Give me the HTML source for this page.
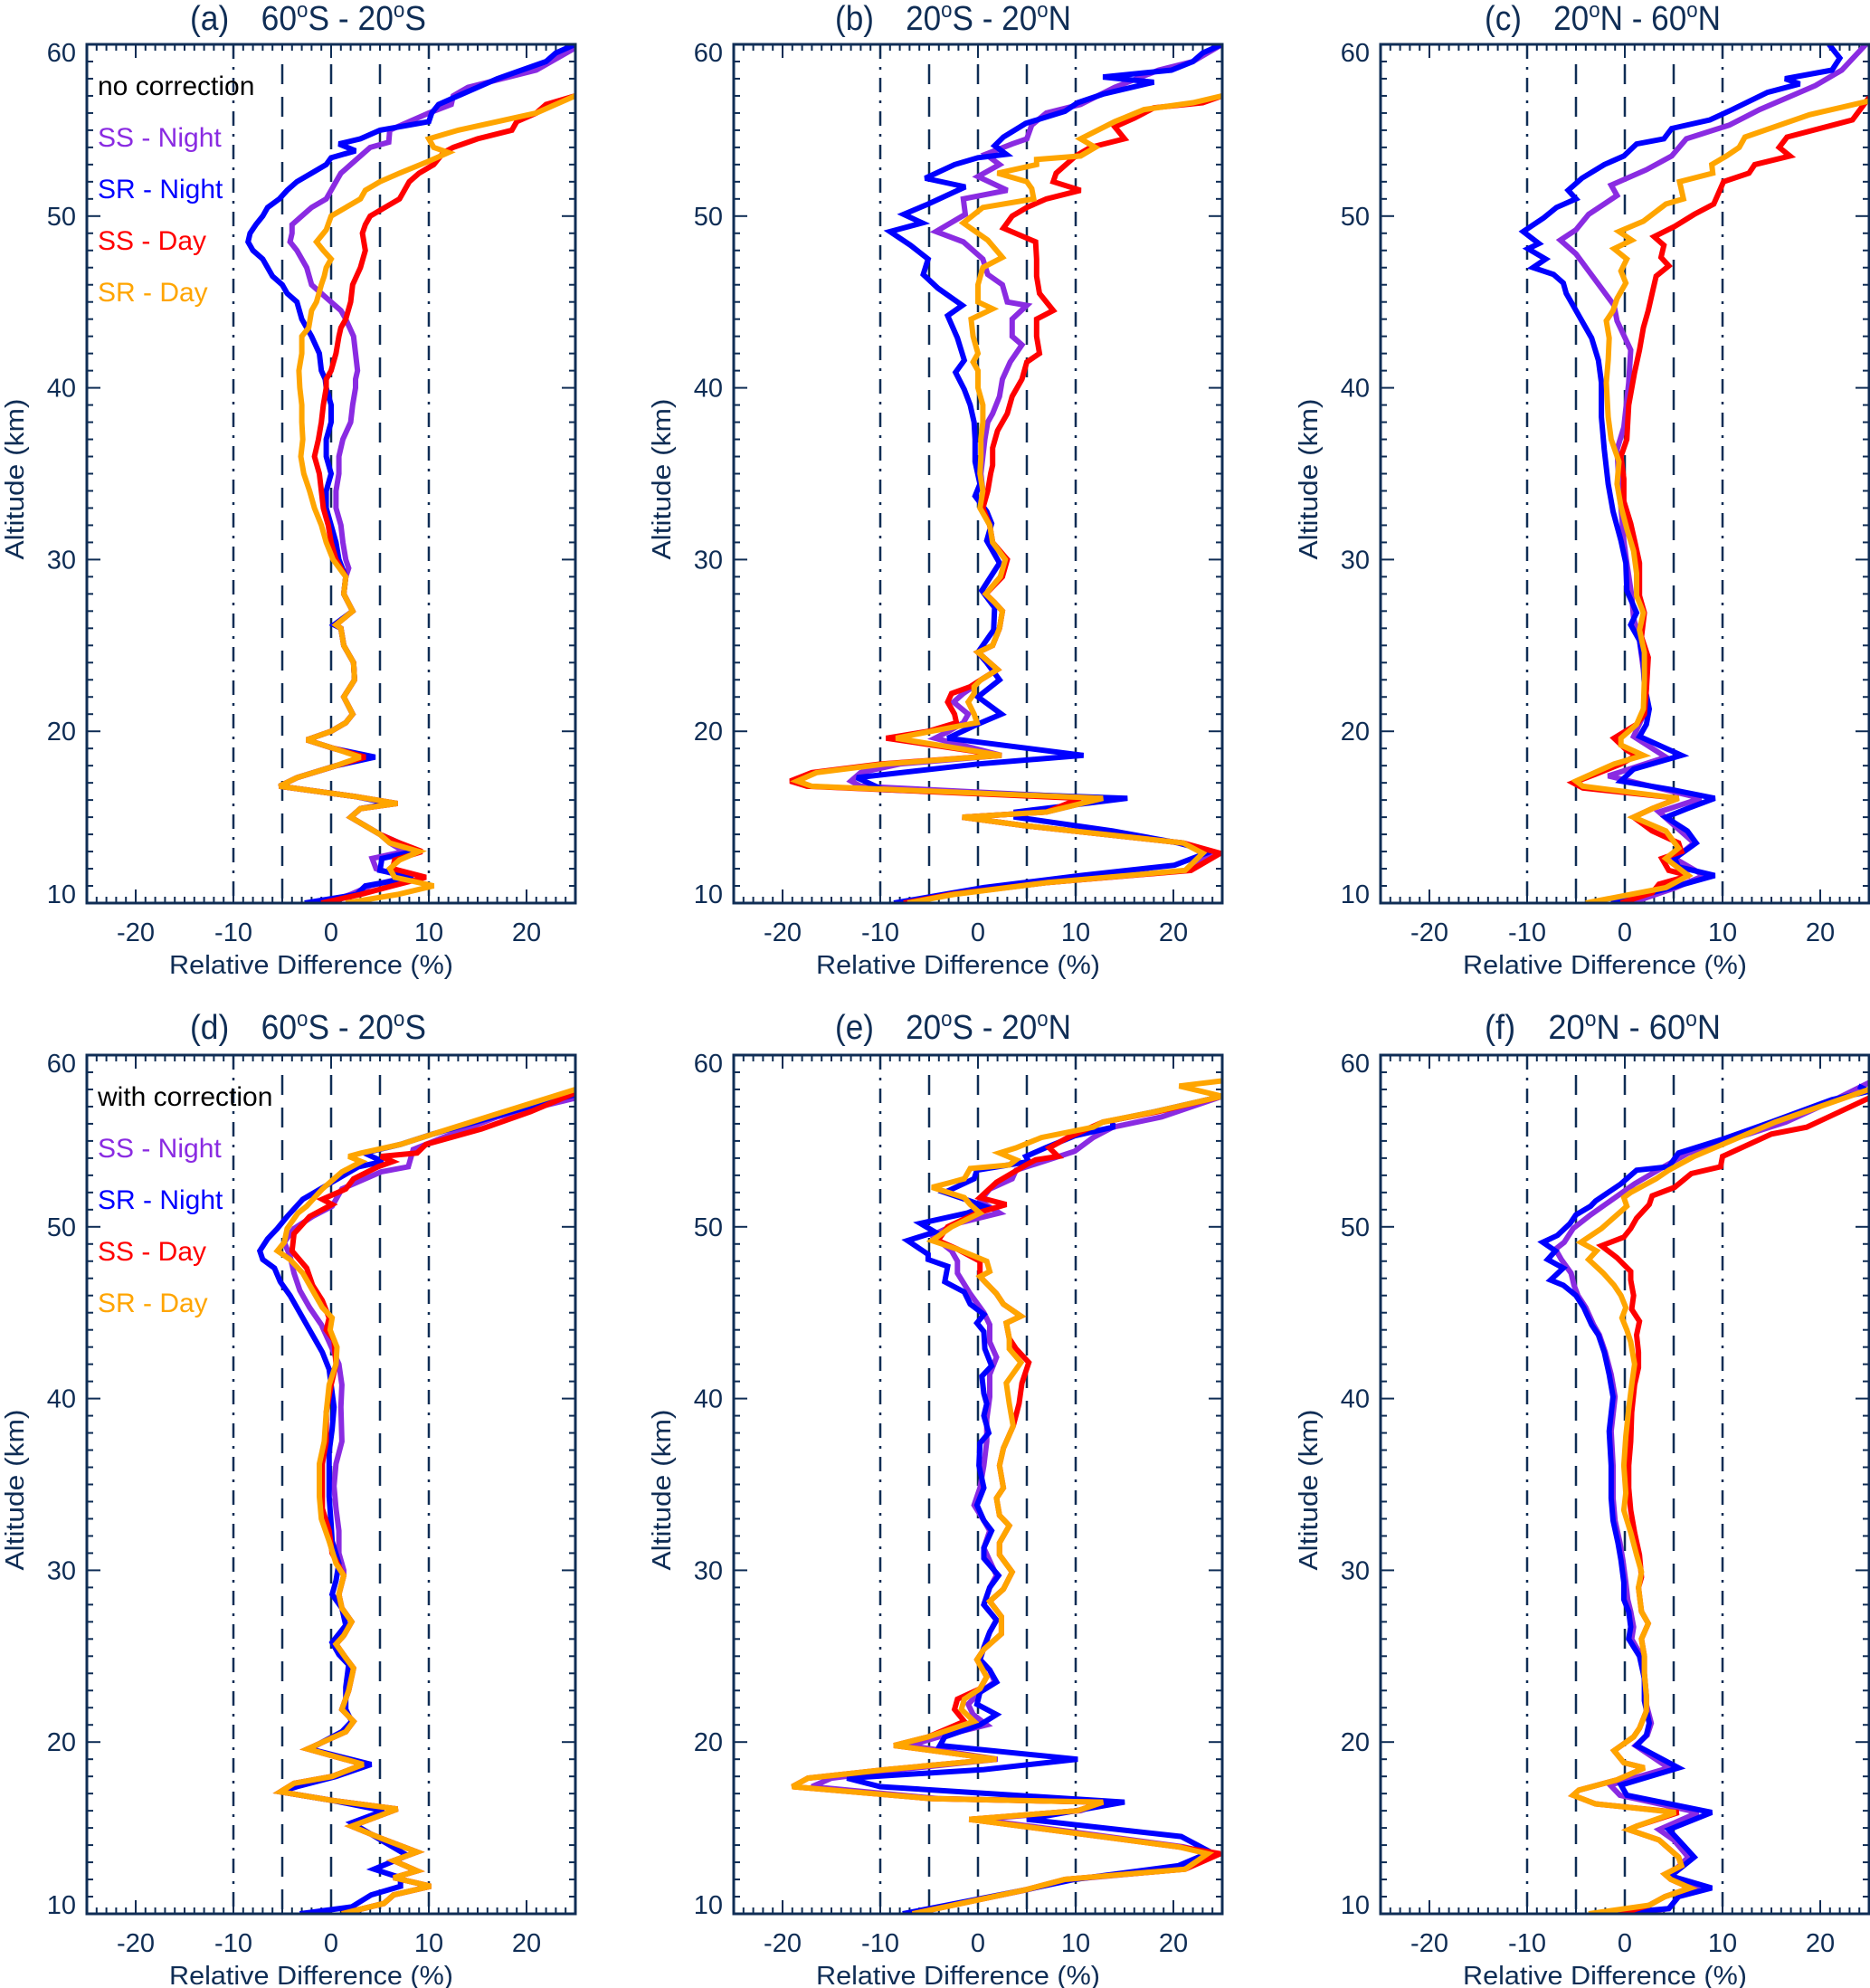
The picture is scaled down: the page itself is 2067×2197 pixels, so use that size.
<!DOCTYPE html>
<html><head><meta charset="utf-8"><title>Relative Difference profiles</title>
<style>
html,body{margin:0;padding:0;background:#fff;}
svg{display:block;}
text{font-family:"Liberation Sans Narrow","Liberation Sans",sans-serif;fill:#0f2d55;}
</style></head>
<body>
<svg id="fig" xmlns="http://www.w3.org/2000/svg" width="2067" height="2197" viewBox="0 0 2067 2197"></svg>
<script>
// ---------- DATA: [altitude km, relative difference %] ----------
const xTicks=[-20,-10,0,10,20];
const yTicks=[10,20,30,40,50,60];
const refDashDot=[-10,10];
const refDash=[-5,0,5];
const seriesNames=["SS - Night","SR - Night","SS - Day","SR - Day"];
const panelTitles=["(a)","(b)","(c)","(d)","(e)","(f)"];
const panelRegions=[["60","S - 20","S"],["20","S - 20","N"],["20","N - 60","N"],["60","S - 20","S"],["20","S - 20","N"],["20","N - 60","N"]];

// Panel (a)
const a_SSN=[[59.8,25],[58.5,21],[57.5,14],[57,12.5],[56.5,12.3],[56,10],[55.5,8],[55,6],[54.3,5.9],[54,4],[53.5,3],[53,2],[52.5,1],[52,0.5],[51.5,0],[51,-0.5],[50.5,-2],[50,-3],[49.5,-4],[49,-4],[48.5,-4.2],[48,-3.5],[47,-2.5],[46,-2],[45.5,-1],[45,0],[44.5,1],[44,1.5],[43,2.3],[42,2.5],[41,2.7],[40.5,2.5],[40,2.5],[39,2.2],[38,2],[37,1.2],[36,0.8],[35,0.8],[34,0.5],[33,0.5],[32,1],[31,1.2],[30,1.5],[29.5,1.8],[29,1.5],[28,1.3],[27,2.2],[26.2,0.5],[26,1],[25,1.3],[24,2.3],[23,2.4],[22,1.3],[21,2.2],[20.5,1.5],[20,0],[19.5,-2.5],[19,0.3],[18.5,3.5],[18,0.5],[17.3,-3.5],[16.8,-5.3],[16.2,2.5],[15.8,6.8],[15.5,3],[15,2],[14,5],[13.5,6],[13,7.5],[12.6,4.2],[12,4.6],[11.5,7.6],[11,4],[10.5,2],[10,-0.5]];
const a_SRN=[[60,25],[59.5,23],[59,22],[58.5,19.5],[58,17],[57,13],[56.5,11],[56,10.3],[55.5,10],[55,5],[54.5,3],[54.2,0.8],[53.8,2.5],[53.4,0],[53,-0.5],[52.5,-2],[52,-3.5],[51.5,-4.5],[51,-5.3],[50.5,-6.5],[50,-7],[49.5,-7.7],[49,-8.3],[48.5,-8.5],[48,-8],[47.5,-7],[47,-6.5],[46.5,-6],[46,-5],[45.5,-4.5],[45,-3.5],[44,-3],[43,-2],[42,-1.2],[41,-1],[40.5,-0.6],[40,-0.5],[39,0],[38,0],[37,-0.5],[36,-0.5],[35,0],[34,-0.5],[33,-0.5],[32,0],[31,0.5],[30,0.8],[29,1.5],[28,1.3],[27,2.2],[26.2,0.3],[26,1],[25,1.3],[24,2.3],[23,2.4],[22,1.3],[21,2.2],[20.5,1.5],[20,0],[19.5,-2.5],[19,0.3],[18.5,4.5],[18,0.5],[17.3,-3.5],[16.8,-5.3],[16.2,2.5],[15.8,6],[15.5,3],[15,2],[14,5],[13.5,7],[13,8.4],[12.6,5.2],[11.9,5],[11.5,8.4],[11,3.5],[10.5,2.6],[10,-2.7]];
const a_SSD=[[57,25],[56.5,22],[56,21],[55.5,19],[55,18.5],[54.5,15],[54,12.5],[53.7,11.5],[53,10.5],[52.5,9],[52,8],[51.5,7.5],[51,7],[50.5,5.5],[50,4],[49.5,3.5],[49,3.2],[48,3.5],[47,3],[46,2.2],[45,2],[44,1.5],[43.5,1],[43,0.8],[42,0.5],[41,0],[40.5,-0.5],[40,-0.5],[39,-0.8],[38,-1],[37,-1.3],[36,-1.7],[35,-1.2],[34,-1],[33,-0.8],[32,-0.3],[31,0],[30,0.5],[29,1.5],[28,1.3],[27,2.2],[26.2,0.5],[26,1],[25,1.3],[24,2.3],[23,2.4],[22,1.3],[21,2.2],[20.5,1.5],[20,0],[19.5,-2.5],[19,0.3],[18.5,3.5],[18,0.5],[17.3,-3.5],[16.8,-5.3],[16.2,2.5],[15.8,6.8],[15.5,3],[15,2],[14,5],[13.5,7],[13,9.3],[12.5,6.5],[12,6.3],[11.5,9.7],[11,6.3],[10.5,3],[10,-1]];
const a_SRD=[[57,25],[56.5,23],[56,21],[55.5,17],[55,13],[54.5,10],[54,10.5],[53.7,12],[53.2,10],[52.5,7],[52,5],[51.5,3.5],[51,3],[50.5,1.5],[50,0],[49.2,-0.5],[48.5,-1.5],[48,-0.8],[47.5,0],[47,-0.5],[46.5,-0.7],[46,-1],[45,-1.5],[44.5,-2],[43.5,-2.3],[43,-3],[42,-3],[41,-3.3],[40,-3.2],[39,-3],[38,-3],[37,-2.9],[36,-3.1],[35,-2.8],[34,-2.2],[33,-1.7],[32,-1],[31,-0.5],[30,0.2],[29,1.5],[28,1.3],[27,2.2],[26.2,0.5],[26,1],[25,1.3],[24,2.3],[23,2.4],[22,1.3],[21,2.2],[20.5,1.5],[20,0],[19.5,-2.5],[19,0.3],[18.5,3],[18,0.5],[17.3,-3.5],[16.8,-5.3],[16.2,2.5],[15.8,6.8],[15.5,3],[15,2],[14,5],[13.5,6],[13,9],[12.5,7],[12,6],[11.5,6.5],[11,10.5],[10.5,6.8],[10,1.5]];

// Panel (b)
const b_SSN=[[60.3,21.5],[60,25],[59,22],[58.5,18.5],[57.5,14],[56.5,10.5],[56,7],[55.3,5.5],[54.5,5],[54.2,3.5],[53.6,0.8],[53,2.2],[52.3,0],[51.5,3],[51,-1.5],[50.1,-1.3],[49.1,-4.3],[48.5,-1.5],[47.5,0.5],[46.6,1],[46,2.5],[45,3],[44.8,5],[44,3.5],[43,3.5],[42.5,4.5],[41.5,3.3],[40.5,2.5],[39.5,2.2],[38.5,1.5],[38,1],[37,0.7],[36,0.5],[35,0.3],[34,0.5],[33,0.3],[32,1.2],[31,1.5],[30,2.8],[29,2.3],[28,0.8],[27.5,1.7],[27,2.5],[26,2.2],[25,1.5],[24.6,0],[23.6,2],[23,0.3],[22.6,-0.5],[22.2,-1.5],[21.7,-2.5],[21,-1],[20.5,-1.5],[20,-3],[19.6,-4.4],[18.6,2.4],[18.1,-8],[17.6,-12],[17.1,-13],[16.8,-12],[16.1,12.8],[15.3,7],[15,-1.6],[14.5,4.9],[13.5,21],[12.9,24],[11.9,21.5],[11.2,7.2],[10.5,-2.8],[10,-7.6]];
const b_SRN=[[60,25],[59.5,23],[59,22],[58.5,19.8],[58.1,12.8],[57.8,18],[57.1,12.8],[56.6,10.2],[56.1,8.9],[55.4,4.9],[54.6,2.6],[54.1,1.7],[53.6,2.9],[53.4,0],[53,-2.4],[52.2,-5.4],[51.7,-1.3],[50.7,-5.1],[50.1,-7.6],[49.6,-5.7],[49.1,-9],[48.3,-6.9],[47.5,-5.1],[46.6,-5.6],[45.8,-4.1],[44.8,-1.6],[44.2,-3.1],[42.9,-2.1],[41.6,-1.4],[40.9,-2.3],[39.9,-1.4],[39,-0.8],[38,-0.4],[37,-0.3],[35.7,-0.3],[34.4,0.2],[33.7,-0.3],[32.8,0.9],[32.1,1.4],[31.1,0.9],[29.8,2.2],[28.2,0.4],[27.2,1.7],[25.9,1.6],[24.6,0],[24,0.9],[23,2.2],[22,0],[21,2.4],[20.4,-0.1],[19.6,-3.1],[18.6,10.8],[18.1,0],[17.3,-12.4],[16.6,-9.7],[16.1,15.3],[15.3,3.9],[15,3.9],[14.2,13.8],[13.5,20.5],[13,23.8],[12.2,20.1],[11.6,10.5],[10.9,0.6],[10,-8.6]];
const b_SSD=[[57,25],[56.6,23],[56.3,18],[55.7,16],[55.2,14],[54.5,15],[54,11.5],[53.5,10],[52.5,8],[52,7.7],[51.5,10.5],[51,7],[50.5,5],[50,3.5],[49.3,2.6],[48.5,5.9],[47.5,6],[46.5,6],[45.5,6.3],[44.5,7.7],[44,6],[43,6],[42,6.3],[41.5,5],[40.5,4.5],[39.5,3.5],[38.5,3],[37.5,2],[36.5,1.5],[35.5,1.5],[35,1.3],[34,1],[33,0.5],[32,1.2],[31,1.5],[30,3],[29,2.5],[28,0.8],[27.5,1.7],[27,2.5],[26,2.2],[25,1.5],[24.6,0],[23.6,2],[23,0.3],[22.6,-0.8],[22.2,-2.7],[21.7,-3.1],[21,-2.4],[20.5,-2.2],[20,-5.1],[19.6,-9.4],[18.6,2.4],[18.1,-10],[17.6,-17],[17.1,-19.2],[16.8,-17.5],[16.1,10.5],[15.3,7],[15,-1.6],[14.5,4.9],[13.5,21],[12.9,24.8],[11.9,21.8],[11.2,7.2],[10.5,-2.8],[10,-7.6]];
const b_SRD=[[57,25],[56.6,22],[56.2,17],[55.5,14],[54.5,10.5],[54,12],[53.5,10.5],[53.3,6],[53,6],[52.5,2],[52,5],[51.6,5.5],[51,5.7],[50.5,0.5],[49.6,-1.5],[48.6,1],[47.6,2.5],[47,0.5],[46,0],[45,0],[44.6,1.5],[44,-0.7],[43,-0.5],[42,0],[41.5,-0.5],[41,0],[40,0],[39,0.5],[38,0.5],[37,0.3],[36,0.3],[35,0.2],[34,0.5],[33,0.2],[32,1.2],[31,1.5],[30,2.8],[29,2.3],[28,0.8],[27.5,1.7],[27,2.5],[26,2.2],[25,1.5],[24.6,0],[23.6,2],[23,0.3],[22.6,-0.4],[22.2,-0.4],[21.7,-1],[21,-0.4],[20.5,-0.1],[20,-4.8],[19.6,-8.4],[18.6,2.4],[18.1,-9.5],[17.6,-16.5],[17.1,-18.5],[16.8,-17],[16.1,12.8],[15.3,7],[15,-1.6],[14.5,4.9],[13.5,21],[12.9,23],[11.9,21.2],[11.2,7.2],[10.5,-2.5],[10,-7.2]];

// Panel (c)
const c_SSN=[[60.2,25],[58.5,22.2],[57.6,19.5],[56.2,13.8],[55.3,10.7],[54.5,6.3],[53.5,4.8],[52.7,2.2],[51.8,-1.4],[51.2,-0.8],[50.1,-3.7],[49.2,-5],[48.6,-6.6],[47.8,-5],[46.8,-3.7],[45.8,-2.4],[44.8,-1.1],[43.9,-0.8],[42.2,0.6],[40.3,0.4],[37.7,-0.1],[36.4,-0.8],[34.4,-0.6],[31.1,-0.1],[29.8,0.2],[27.9,0.7],[26.6,0.9],[25.3,1.5],[23.6,1.9],[21.3,2.2],[19.7,0.9],[18.5,4.2],[17.4,-1.7],[16.1,7.8],[15.3,3.5],[13.5,7.1],[12.6,5.1],[11.6,8.1],[10.9,5.2],[10,0.6]];
const c_SRN=[[60,20.9],[59.2,22],[58.5,21.2],[58,16.4],[57.7,17.9],[57.2,14.6],[56.2,11],[55.6,8.7],[55.1,4.8],[54.5,4],[54.2,1.2],[53.5,-0.1],[53,-2.1],[52.2,-4.4],[51.5,-5.8],[51,-5],[50.5,-7],[49.9,-8.3],[49.1,-10.4],[48.4,-8.8],[48.1,-9.9],[47.5,-8.1],[47,-9.4],[46.6,-7.3],[46.1,-6.3],[45.5,-6],[44.8,-5.3],[43.9,-4.4],[42.9,-3.4],[41.6,-2.7],[40.3,-2.4],[38.3,-2.4],[36.4,-2.1],[34.4,-1.7],[32.8,-1.2],[31.1,-0.4],[29.8,0.1],[28.2,0.2],[26.9,1.2],[26.2,0.6],[25.3,1.5],[24,1.9],[22.7,2],[21.3,2.5],[20.4,2.2],[19.7,1.5],[18.6,5.8],[17.8,0.9],[17.1,-0.4],[16.6,4.8],[16.1,9.2],[15.5,6.4],[15,4.2],[14.2,6.4],[13.5,7.3],[12.6,5.1],[12.1,5.5],[11.6,9.2],[10.9,4.8],[10,-1.4]];
const c_SSD=[[56.9,25],[55.6,23.3],[54.6,16.6],[54,15.8],[53.5,16.9],[53,13.3],[52.5,12.7],[52,10.1],[50.7,9.1],[50.1,7.1],[49.4,5.1],[48.8,3],[48.3,4],[47.6,3.7],[47.1,4.5],[46.5,3.2],[45.5,2.8],[44.5,2.4],[43.5,1.9],[42.2,1.5],[40.9,1],[39,0.4],[37,0.2],[36,-0.4],[34.7,-0.1],[33.4,-0.1],[32.1,0.6],[31.1,1],[29.8,1.5],[27.9,1.5],[26.9,2],[25.5,1.7],[24.3,2.4],[22.4,2.2],[21,2],[20.4,1.2],[19.6,-1.1],[18.9,0.2],[18.6,1.2],[18.1,-0.4],[17.5,-3],[17,-5.3],[16.7,-4.3],[16.1,5.5],[15.5,2.8],[15,0.9],[14.2,2.8],[13.5,5.5],[13,5.8],[12.6,3.8],[11.9,4.5],[11.6,6.6],[11.1,3.5],[10.6,2.8],[10,-0.4]];
const c_SRD=[[56.7,25],[55.9,18.9],[54.6,12.3],[54,11.7],[53.5,10.4],[53,8.9],[52.5,9],[52,5.6],[51,6],[50.7,4.2],[49.7,1.9],[49.1,-0.6],[48.6,0.7],[48.1,-1.1],[47.5,0.2],[46.8,-0.4],[46.1,0.1],[45.2,-0.8],[44.5,-1.2],[43.9,-1.9],[42.9,-1.6],[41.6,-1.7],[40.3,-1.9],[38.3,-1.7],[37,-1.4],[35.7,-0.6],[34.4,-0.8],[33.1,-0.4],[31.8,0.2],[30.5,0.9],[29.2,1.2],[27.9,1.2],[26.9,1.9],[25.9,1.5],[24.6,2],[23,2],[21.3,1.9],[20.4,1.2],[19.6,-0.4],[19.2,-0.4],[18.6,1.9],[18.1,-1.1],[17.1,-5],[16.8,-4.3],[16.1,5.5],[15.5,2.8],[15,0.9],[14.2,4.2],[13.2,5.5],[12.6,4.2],[11.6,6.5],[10.9,4.2],[10,-4]];

// Panel (d)
const d_low=[[29.7,1.3],[28.6,0.8],[27.8,1.1],[27,2.1],[26.2,1.3],[25.7,0.5],[24.9,1.5],[24.3,2.3],[23,1.8],[21.9,1.1],[21.2,2.3],[20.6,1.5],[19.6,-2.4],[18.7,3.3],[18,0.1],[17.6,-3.8],[17.1,-5.2],[16.6,0.1],[16.1,6.8],[15.1,2.1],[14.4,5.1],[13.6,8.8],[13.1,6.4],[12.5,8.8],[12.1,6.4],[11.6,10.2],[11.1,6.4],[10.6,5.4],[10,1.1]];
const d_SSN=[[57.5,25],[56.4,17],[55.1,11],[54.5,8.4],[53.5,7.9],[53.2,5.1],[52.2,1.1],[51.2,0.1],[50.6,-1.9],[49.9,-3.8],[49.1,-4.8],[48.3,-4.2],[47.3,-3.8],[46.3,-3.2],[45.3,-2.2],[44.3,-1],[43.3,-0.2],[42,0.8],[40.8,1.1],[39.5,1],[37.5,1.1],[36.2,0.5],[34.9,0.3],[33.6,0.5],[32.3,0.8],[31,0.8],[30,1.3]];
const d_SRN=[[57.7,25],[56.9,19.7],[56.2,15.4],[55.4,10.4],[54.8,7.1],[54.3,3.4],[53.8,5.3],[53.5,2.8],[52.5,-0.2],[51.6,-2.9],[50.6,-4.5],[49.9,-5.5],[49.3,-6.5],[48.6,-7.3],[48.1,-7],[47.6,-5.8],[46.8,-5.2],[46,-4.2],[45,-3.2],[44,-2.2],[42.7,-0.9],[41.7,-0.2],[40.8,0],[39.5,0.3],[38.2,0.1],[36.9,-0.2],[35.6,-0.2],[34.3,-0.2],[32.7,0],[31.7,0.1],[30.4,0.8],[29.4,0.5],[28.6,0.1],[27.8,1.1],[26.8,1.5],[25.8,0.1],[25.1,0.8],[24.5,1.8],[23.2,1.5],[21.9,1.5],[21.2,2.1],[20.6,1.1],[19.6,-2.2],[18.7,4.1],[18,0.5],[17.4,-3.5],[17.1,-5.2],[16.6,0.1],[16,5.4],[15.3,2.1],[14.4,4.8],[13.4,7.8],[12.6,4.4],[12.1,7.1],[11.6,7.1],[11.1,4.1],[10.4,2.1],[10,-3.2]];
const d_SSD=[[57.8,25],[56.7,20.4],[55.7,15.4],[54.8,9.7],[54.3,8.8],[54.1,5.1],[53.8,6.3],[53.5,4.8],[52.8,2.3],[52.2,1.5],[51.6,-0.9],[51.3,0.1],[50.6,-2.2],[49.6,-3.8],[48.6,-4],[47.6,-2.5],[46.6,-1.9],[45.7,-0.9],[44.7,-0.2],[44,-0.5],[43.4,0.3],[42,0.5],[40.8,0],[39.2,-0.5],[37.5,-0.5],[36.2,-0.9],[34.9,-0.9],[33.6,-0.9],[32.3,-0.2],[31,0.1],[30,1]];
const d_SRD=[[58,25],[56.4,16],[55.4,10.4],[54.8,7.1],[54.3,3.1],[54.1,1.8],[53.8,3.1],[53.2,1.1],[52.2,-0.9],[51.2,-2.5],[50.8,-3.4],[49.9,-4.5],[49.1,-4.8],[48.6,-5.5],[48.1,-4.2],[47.3,-2.9],[46.3,-1.9],[45.3,-0.9],[44.7,0.1],[44,-0.1],[43,0.6],[42,0.5],[40.8,-0.2],[39.2,-0.5],[37.5,-0.7],[36.2,-1.2],[34.3,-1.2],[33,-1],[31.7,-0.2],[30.4,0.5]];

// Panel (e)
const e_SSN=[[57.6,25],[56.4,18.8],[55.8,13.8],[55.2,11.8],[54.4,9.9],[53.9,7.2],[53.3,3.9],[52.8,3.5],[52.2,1.2],[51.5,0.2],[50.8,2.2],[50.2,-2.1],[49.5,-4.7],[48.6,-2.7],[48,-2.1],[47.3,-2.1],[46.1,-0.8],[45,0.6],[44.3,1.2],[43.3,1.2],[42.4,1.9],[41.4,1.2],[40.1,1.2],[38.8,0.9],[37.5,0.9],[36.1,0.6],[34.8,0.2],[33.8,-0.4],[32.9,0.6],[32.3,1.2],[31.3,0.6],[29.7,1.9],[29,1.2],[28,0.6],[27.1,1.9],[26.4,1.2],[25.5,0.6],[24.8,0.2],[24.2,1.2],[23.5,1.7],[22.9,0.2],[22.2,-1],[21.6,-0.5],[21,0.9],[20.3,-4],[19.8,-7],[19,2],[18.4,-8],[17.9,-15],[17.4,-17],[16.7,-4],[16.5,13],[16,10.5],[15.5,0],[14.9,8],[13.9,21],[13.5,24],[12.6,21],[12,9.5],[11.4,5],[10,-7]];
const e_SRN=[[57.6,25],[56.7,18.1],[56.2,13.8],[55.8,13.8],[55.3,9.9],[54.6,6.9],[54.1,4.9],[53.8,5.2],[53.3,-0.1],[52.8,-0.4],[52,-3.4],[51.5,-0.8],[51.2,0.6],[50.8,-1.1],[50.2,-5.9],[49.7,-4.4],[49.2,-7.2],[48.4,-5.1],[48.1,-5.1],[47.7,-3.1],[46.8,-3.4],[46.2,-1.4],[45.5,-0.8],[44.9,0.6],[44.4,-0.1],[43.9,0.6],[42.9,0.7],[41.9,1.4],[41.3,0.4],[40.3,0.6],[39.7,0.9],[39,0.6],[38,1.1],[37.4,0.2],[36.1,0.1],[34.8,0.6],[33.8,-0.1],[32.9,0.6],[32.3,1.4],[31.3,0.6],[30.7,0.6],[29.7,2.1],[29,1.2],[28,0.6],[27.1,1.9],[26.4,1.2],[25.5,0.6],[24.8,0.2],[24.2,1.2],[23.5,1.9],[22.9,0.2],[22.2,-0.1],[21.6,1.9],[21,0.2],[20.3,-3.4],[19.8,-3.9],[19,10.2],[18.4,0.6],[17.9,-13.4],[17.4,-10],[16.5,15],[15.5,5],[14.5,20.8],[13.6,23.8],[12.8,20.5],[12,9.9],[11.4,4.9],[10,-7.7]];
const e_SSD=[[57.6,25],[56.7,18.4],[56.1,12.8],[55.2,9.2],[54.6,7.3],[54.1,8.2],[53.9,5.9],[53.6,4.9],[52.6,1.9],[51.7,0.2],[51.3,2.9],[50.8,-0.1],[50,-3.1],[49.2,-4.1],[48.7,-2.1],[48,0.2],[47.1,0.2],[46.1,1.9],[45.5,2.6],[44.8,4.4],[44.4,2.9],[43.5,3.2],[42.9,3.9],[42.1,5.2],[40.9,4.5],[39.7,4.2],[38.4,3.6],[37.1,2.6],[36.1,2.2],[34.8,2.6],[34.2,1.9],[33.2,2.2],[32.6,3.2],[31.6,2.2],[30.9,2.2],[29.9,3.5],[28.9,2.6],[28.2,1.2],[27.3,2.4],[26.3,2.4],[25.4,0.6],[24.8,-0.1],[23.8,0.9],[23.1,0.2],[22.5,-2.1],[21.9,-2.4],[21.2,-1.4],[20.3,-5.1],[19.8,-8.6],[19,1.9],[18.4,-9.4],[17.9,-17.4],[17.4,-19],[16.7,-4.7],[16.5,12.8],[16,10.2],[15.5,-0.9],[14.9,7.2],[13.9,20.5],[13.5,24.8],[12.6,21.2],[12,8.9],[11.4,4.9],[10,-6.7]];
const e_SRD=[[58.5,25],[58.2,20.6],[57.6,25],[56.7,18.1],[56.1,12.8],[55.8,11.8],[55.2,6.5],[54.6,3.9],[54.3,2.2],[53.9,3.9],[53.6,3.2],[53.4,-0.8],[52.8,-1.4],[52.6,-2.7],[52.3,-4.7],[51.7,-1.4],[51.3,-0.8],[50.8,0.2],[50,-2.7],[49.2,-4.7],[48.7,-2.1],[48,0.9],[47.4,1.2],[47.1,0.2],[46.1,1.9],[45.5,2.6],[44.8,4.4],[44.4,2.9],[43.5,3.2],[42.9,3.2],[42.1,4.4],[40.9,2.9],[39.7,3.2],[38.4,3.6],[37.1,2.6],[36.1,2.2],[34.8,2.6],[34.2,1.9],[33.2,2.2],[32.6,3.2],[31.6,2.2],[30.9,2.2],[29.9,3.5],[28.9,2.6],[28.2,1.2],[27.3,2.4],[26.3,2.4],[25.4,0.6],[24.8,-0.1],[23.8,0.9],[23.1,0.2],[22.5,-1.4],[21.9,-1.7],[21.2,-0.4],[20.3,-5.1],[19.8,-8.6],[19,1.9],[18.4,-9.4],[17.9,-17.4],[17.4,-19],[16.7,-4.7],[16.5,12.8],[16,10.2],[15.5,-0.9],[14.9,7.2],[13.9,20.5],[13.5,23.5],[12.6,21.2],[12,8.9],[11.4,4.9],[10,-6.7]];

// Panel (f)
const f_SSN=[[58.4,25],[57.4,21.5],[56.1,16.5],[55.1,11],[54.3,6.5],[53.5,4],[52.5,1],[51.5,-1.5],[50.7,-3.5],[49.9,-5.3],[49.1,-6.2],[48.7,-7.1],[48.1,-6.5],[47.3,-5.5],[46.6,-5.2],[46,-4.8],[45.3,-4],[44.3,-3.2],[43.7,-2.6],[42.7,-2],[41.4,-1.4],[40.1,-1],[38.1,-1.4],[36.1,-1.2],[34.2,-1.2],[32.9,-1],[31.6,-0.5],[30.6,-0.2],[29.3,0.1],[28.3,0.3],[27.6,0.6],[26.7,0.9],[26,0.7],[25,1.7],[23.7,2],[22.4,2.1],[21.1,2.7],[20.4,2.3],[19.8,1.1],[18.5,4.5],[17.5,-1.5],[16.9,-0.5],[15.9,7.5],[14.9,3.5],[14.3,5],[13.3,6.5],[12.2,4.5],[11.5,7.5],[11,5.5],[10.3,4.5],[10,0.5]];
const f_SRN=[[58.2,23.9],[57.9,25],[57.4,21.2],[56.1,15],[55.1,10],[54.3,5.5],[53.5,4.5],[53.3,1.2],[52.5,-0.4],[51.5,-3],[51.2,-3.5],[50.7,-5],[50.2,-5.6],[49.5,-6.9],[49.1,-8.4],[48.6,-7.1],[48.1,-7.9],[47.6,-6.3],[46.9,-7.6],[46.6,-6.3],[46,-5],[45.3,-4.2],[44.3,-3.4],[43.7,-2.7],[42.7,-2.1],[41.4,-1.6],[40.1,-1.2],[38.1,-1.6],[36.1,-1.4],[34.2,-1.4],[32.9,-1.2],[31.6,-0.7],[30.6,-0.4],[29.3,-0.1],[28.3,-0.1],[27.6,0.4],[26.7,0.6],[26,0.4],[25,1.5],[23.7,2],[22.4,2],[21.1,2.5],[20.4,2.2],[19.8,1.2],[18.5,5.5],[17.5,-0.4],[16.9,0.2],[15.9,8.9],[14.9,4.5],[14.3,5.5],[13.3,7.1],[12.2,4.7],[11.5,8.9],[11,5.5],[10.3,4.5],[10,-1.4]];
const f_SSD=[[57.5,25],[55.8,18.6],[55.4,15],[54.1,10],[53.5,9.8],[53.1,6.8],[52.3,5.1],[51.8,2.8],[51.3,2.5],[50.5,1.2],[49.9,0.6],[49.4,-0.1],[48.9,-2.4],[48.2,-0.8],[47.4,0.6],[46.9,0.6],[46,0.9],[45.2,0.7],[44.5,1.5],[43.7,1.2],[42.7,1.4],[41.8,1.4],[40.8,1],[39.2,0.7],[37.5,0.6],[36.1,0.4],[34.8,0.4],[33.5,0.6],[32.2,1],[30.9,1.5],[29.6,1.7],[29,1.4],[27.6,1.7],[26.9,2.4],[26,1.7],[25,2],[24,2],[22.7,2.2],[21.8,2.2],[20.8,1.5],[20.3,0.9],[19.5,-1.1],[18.8,-0.1],[18.5,2],[17.8,-0.8],[17.2,-4.7],[16.9,-5.3],[16.4,-3],[15.9,5.5],[15.1,1.2],[14.9,0.4],[14.3,3.5],[13.3,5.5],[12.8,5.8],[12.3,4.1],[12,4.7],[11.5,6.7],[11,4.1],[10.5,2.5],[10,-0.5]];
const f_SRD=[[58,25],[56.1,15.4],[54.8,10],[54.1,7.1],[53.3,4.5],[52.8,3.2],[52,0.6],[51.7,-0.1],[51.2,0.2],[50.7,-0.8],[49.9,-2.4],[49.1,-4.5],[48.6,-2.9],[48.1,-3.7],[47.3,-2.2],[46.6,-1.1],[46,-0.4],[45.3,0.1],[44.7,-0.3],[44,0.2],[43.3,0.6],[42,1],[40.8,0.7],[39.4,0.4],[37.8,0.1],[36.1,-0.1],[34.5,0.1],[33.5,-0.1],[32.2,0.6],[30.9,1.2],[29.9,1.7],[29,1.4],[27.6,1.7],[26.9,2.4],[26,1.7],[25,2],[24,2],[22.7,2.2],[21.8,2.2],[20.8,1.5],[20.3,0.9],[19.5,-1.1],[18.8,-0.1],[18.5,2],[17.8,-0.8],[17.2,-4.7],[16.9,-5.3],[16.4,-3],[15.9,5.2],[15.1,1.2],[14.9,0.4],[14.3,3.5],[13.3,5.5],[12.8,5.8],[12.3,4.1],[12,4.7],[11.5,6.7],[11,4.1],[10.5,2.5],[10,-3.7]];

// ---------- DRAWING ----------
const NS="http://www.w3.org/2000/svg";
const svg=document.getElementById('fig');
const AX="#0f2d55";
const colors=["#8a2be2","#0000ff","#ff0000","#ffa500"];
const colX=[96,811,1526], rowY=[49,1166], PW=540, PH=949;
const XMIN=-25,XMAX=25,YMIN=10,YMAX=60;

function mk(tag,attrs,parent){const e=document.createElementNS(NS,tag);for(const k in attrs)e.setAttribute(k,attrs[k]);(parent||svg).appendChild(e);return e;}

const panelSeries=[
 [a_SSN,a_SRN,a_SSD,a_SRD],
 [b_SSN,b_SRN,b_SSD,b_SRD],
 [c_SSN,c_SRN,c_SSD,c_SRD],
 [d_SSN.concat(d_low),d_SRN,d_SSD.concat(d_low),d_SRD.concat(d_low)],
 [e_SSN,e_SRN,e_SSD,e_SRD],
 [f_SSN,f_SRN,f_SSD,f_SRD]
];

const defs=mk('defs',{});
for(let p=0;p<6;p++){
  const col=p%3,row=Math.floor(p/3);
  const x0=colX[col],y0=rowY[row];
  const sx=v=>x0+(v-XMIN)/(XMAX-XMIN)*PW;
  const sy=a=>y0+PH-(a-YMIN)/(YMAX-YMIN)*PH;
  const g=mk('g',{});
  
  
  const cp=mk('clipPath',{id:'clip'+p},defs);
  mk('rect',{x:x0,y:y0,width:PW,height:PH},cp);

  // title
  const t=mk('text',{x:[210,923,1641][col],y:row?1148:33,'font-size':38,textLength:261,lengthAdjust:'spacingAndGlyphs'},g);
  
  
  const reg=panelRegions[p];
  mk('tspan',{},t).textContent=panelTitles[p]+"\u2002\u2002";
  mk('tspan',{},t).textContent=reg[0];
  mk('tspan',{dy:-14,'font-size':24},t).textContent="o";
  mk('tspan',{dy:14},t).textContent=reg[1];
  mk('tspan',{dy:-14,'font-size':24},t).textContent="o";
  mk('tspan',{dy:14},t).textContent=reg[2];

  // reference lines
  refDashDot.forEach(v=>{const l=mk('line',{x1:sx(v),x2:sx(v),y1:y0,y2:y0+PH,stroke:AX,'stroke-width':2.5,'stroke-dasharray':'16 9 3 9'},g);
    });
  refDash.forEach(v=>{const l=mk('line',{x1:sx(v),x2:sx(v),y1:y0+22,y2:y0+PH,stroke:AX,'stroke-width':2.5,'stroke-dasharray':'22 14'},g);
    });

  // ticks
  for(let v=XMIN;v<=XMAX;v++){
    const L=(v%10===0)?15:7;
    mk('line',{x1:sx(v),x2:sx(v),y1:y0+PH,y2:y0+PH-L,stroke:AX,'stroke-width':2},g);
    mk('line',{x1:sx(v),x2:sx(v),y1:y0,y2:y0+L,stroke:AX,'stroke-width':2},g);
  }
  for(let a=YMIN;a<=YMAX;a++){
    const L=(a%10===0)?15:7;
    mk('line',{x1:x0,x2:x0+L,y1:sy(a),y2:sy(a),stroke:AX,'stroke-width':2},g);
    mk('line',{x1:x0+PW,x2:x0+PW-L,y1:sy(a),y2:sy(a),stroke:AX,'stroke-width':2},g);
  }
  xTicks.forEach(v=>{const tx=mk('text',{x:sx(v),y:y0+PH+42,'font-size':29,'text-anchor':'middle'},g);
    tx.textContent=v;});
  yTicks.forEach(a=>{let cy=sy(a); if(a===60)cy+=9; if(a===10)cy-=10;
    const ty=mk('text',{x:x0-12,y:cy+10,'font-size':29,'text-anchor':'end'},g);
    ty.textContent=a;});
  const xl=mk('text',{x:x0+248,y:y0+PH+78,'font-size':29,'text-anchor':'middle',textLength:314,lengthAdjust:'spacingAndGlyphs'},g);
  
  xl.textContent="Relative Difference (%)";
  const yc=y0+PH/2+6, yx=x0-70;
  const yl=mk('text',{x:yx,y:yc,'font-size':29,'text-anchor':'middle',transform:`rotate(-90 ${yx} ${yc})`,textLength:178,lengthAdjust:'spacingAndGlyphs'},g);
  
  yl.textContent="Altitude (km)";

  // series
  const lg=mk('g',{'clip-path':`url(#clip${p})`},g);
  panelSeries[p].forEach((s,i)=>{
    const d=s.map((pt,k)=>(k?'L':'M')+sx(pt[1]).toFixed(1)+' '+sy(pt[0]).toFixed(1)).join(' ');
    const path=mk('path',{d:d,fill:'none',stroke:colors[i],'stroke-width':6,'stroke-linejoin':'miter','stroke-miterlimit':3},lg);
    
    
  });

  // frame
  const fr=mk('rect',{x:x0,y:y0,width:PW,height:PH,fill:'none',stroke:AX,'stroke-width':3},g);
  

  // legend
  if(col===0){
    const lgd=mk('g',{},g);
    
    const head=mk('text',{x:108,y:y0+56,'font-size':30,style:'fill:#000'},lgd);
    
    head.textContent=row?"with correction":"no correction";
    seriesNames.forEach((n,i)=>{
      const e=mk('text',{x:108,y:y0+113+57*i,'font-size':30,style:'fill:'+colors[i]},lgd);
      
      e.textContent=n;
    });
  }
}
</script>
</body></html>
